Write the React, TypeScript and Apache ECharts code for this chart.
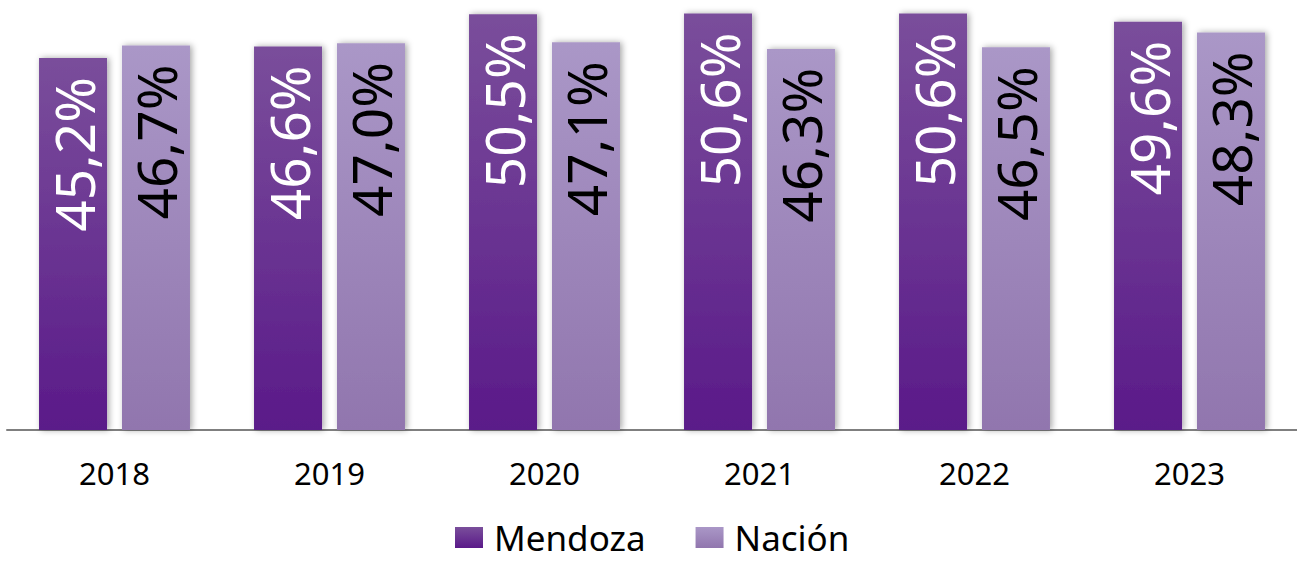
import React, { useEffect, useRef } from "react";
import * as echarts from "echarts";

const years = ["2018", "2019", "2020", "2021", "2022", "2023"];
const mendoza = [45.2, 46.6, 50.5, 50.6, 50.6, 49.6];
const nacion = [46.7, 47.0, 47.1, 46.3, 46.5, 48.3];
const seriesNames = ["Mendoza", "Nación"];

const fmt = (v: number) => v.toFixed(1).replace(".", ",") + "%";

export default function App() {
  const ref = useRef<HTMLDivElement>(null);
  useEffect(() => {
    if (!ref.current) return;
    const chart = echarts.init(ref.current, null, { renderer: "svg" });
    const font = "'Noto Sans', sans-serif";
    const mendozaColor = new echarts.graphic.LinearGradient(0, 0, 0, 1, [
      { offset: 0, color: "#7a4e9b" },
      { offset: 1, color: "#5a1a89" },
    ]);
    const nacionColor = new echarts.graphic.LinearGradient(0, 0, 0, 1, [
      { offset: 0, color: "#aa97c7" },
      { offset: 1, color: "#9176ae" },
    ]);
    const label = (color: string) => ({
      show: true,
      position: "insideTop",
      rotate: 90,
      align: "right",
      verticalAlign: "middle",
      distance: 19,
      color,
      fontSize: 55,
      fontFamily: font,
      formatter: (p: any) => fmt(p.value),
    });
    const shadow = {
      shadowBlur: 6,
      shadowColor: "rgba(0,0,0,0.35)",
      shadowOffsetX: 2,
      shadowOffsetY: 0,
    };
    chart.setOption({
      animation: false,
      grid: { left: 7, top: 2, width: 1297, bottom: 134 },
      legend: {
        data: seriesNames,
        left: 450,
        top: 515,
        itemWidth: 28,
        itemHeight: 21,
        itemGap: 50,
        icon: "rect",
        textStyle: {
          fontSize: 35,
          lineHeight: 35,
          fontFamily: font,
          color: "#000",
          padding: [0, 0, 0, 6],
        },
      },
      xAxis: {
        type: "category",
        data: years,
        axisLine: { show: true, lineStyle: { color: "#7f7f7f", width: 2 } },
        axisTick: { show: false },
        axisLabel: { fontSize: 31, fontFamily: font, color: "#000", margin: 27 },
      },
      yAxis: {
        type: "value",
        min: 0,
        max: 52,
        show: false,
        splitLine: { show: false },
      },
      series: [
        {
          name: seriesNames[0],
          type: "bar",
          data: mendoza,
          barWidth: 68,
          barGap: "22%",
          itemStyle: { color: mendozaColor, ...shadow },
          label: label("#ffffff"),
        },
        {
          name: seriesNames[1],
          type: "bar",
          data: nacion,
          barWidth: 68,
          itemStyle: { color: nacionColor, ...shadow },
          label: label("#000000"),
        },
      ],
    });
    return () => chart.dispose();
  }, []);
  return (
    <div
      ref={ref}
      style={{ position: "fixed", left: 0, top: 0, width: 1297, height: 564, background: "#fff" }}
    />
  );
}
